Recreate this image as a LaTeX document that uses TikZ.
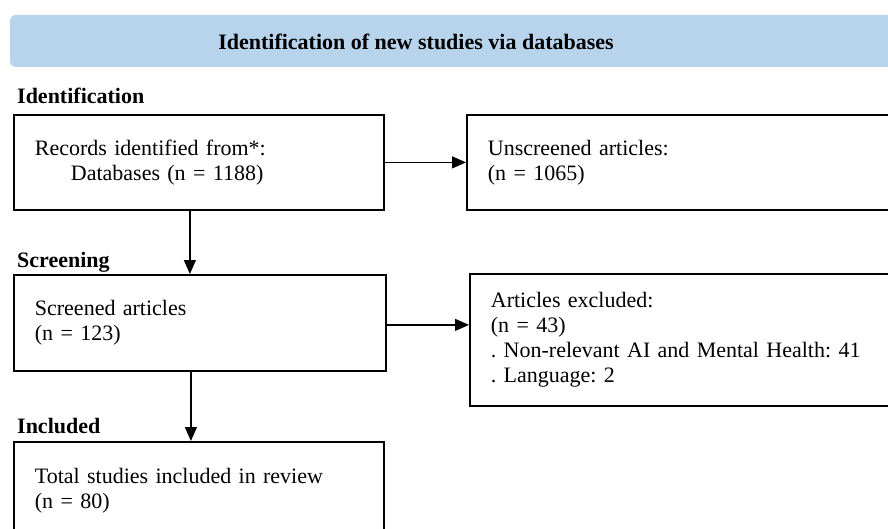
\documentclass[tikz,border=0pt]{standalone}
\usepackage{fontspec}
\setmainfont{Liberation Serif}
\usetikzlibrary{arrows.meta}
\definecolor{bannerblue}{RGB}{184,212,236}
\frenchspacing
\begin{document}
\begin{tikzpicture}[x=1pt, y=-1pt, every node/.style = {font=\fontsize{22}{25}\selectfont}]
	\tikzset{ box/.style = {draw, line width=1.8pt, align=left, inner xsep=21pt, anchor=north west} }
	\tikzset{ stage/.style = {font=\fontsize{22}{25}\selectfont\bfseries, anchor=base west, inner sep=0pt} }
	\tikzset{ flow/.style = {line width=1.2pt, -{Triangle[length=14pt, width=12pt]}} }
	\useasboundingbox (0,0) rectangle (888,529);
	\clip (0,0) rectangle (888,529);
	\fill[bannerblue, rounded corners=6pt] (10,15) rectangle (920,67);
	\node [font=\fontsize{22}{25}\selectfont\bfseries] (title) at (416,42) {Identification of new studies via databases};
	% stages
	\node [stage] (ident) at (17,104) {Identification};
	\node [stage] (screen) at (17,268) {Screening};
	\node [stage] (incl) at (17,433) {Included};
	% boxes
	\node [box, text width=328pt, minimum height=95pt] (records) at (13,114) {\frenchspacing Records identified from*:\\\hspace*{36pt}Databases (n = 1188)};
	\node [box, text width=398pt, minimum height=95pt] (unscreened) at (466,114) {\frenchspacing Unscreened articles:\\(n = 1065)};
	\node [box, text width=330pt, minimum height=96pt] (screened) at (13,274) {\frenchspacing Screened articles\\(n = 123)};
	\node [box, text width=398pt, minimum height=132pt] (excluded) at (469,273) {\frenchspacing Articles excluded:\\(n = 43)\\. Non-relevant AI and Mental Health: 41\\. Language: 2};
	\node [box, text width=328pt, minimum height=98pt] (total) at (13,441) {\frenchspacing Total studies included in review\\(n = 80)};
	% arrows
	\draw [flow] (records.east) -- (unscreened.west);
	\draw [flow] ([yshift=-2pt]screened.east) -- ([yshift=-2pt]screened.east -| excluded.west);
	\draw [flow] ([xshift=-9pt]records.south) -- ([xshift=-9pt]records.south |- screened.north);
	\draw [flow] ([xshift=-9pt]screened.south) -- ([xshift=-9pt]screened.south |- total.north);
\end{tikzpicture}
\end{document}
